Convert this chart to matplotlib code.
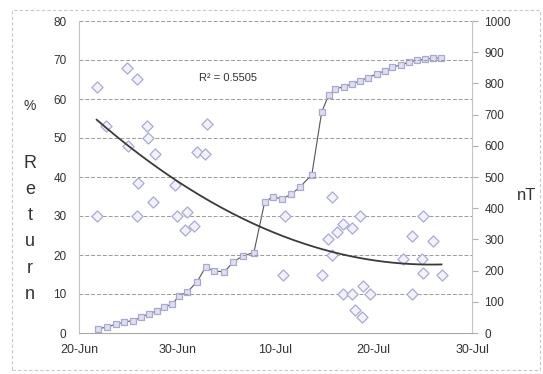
import numpy as np
import matplotlib
matplotlib.use("Agg")
import matplotlib.pyplot as plt
from matplotlib.patches import Rectangle

plt.rcParams['font.family'] = ['Liberation Sans', 'DejaVu Sans']

# Return (%) observations: day offset from 20-Jun, value
ret_day = [1.8, 2.7, 4.9, 5.9, 5.0, 6.0, 6.9, 7.0, 7.7, 9.8, 12.0, 12.8, 13.0,
           1.8, 5.9, 7.5, 10.0, 11.0, 10.8, 11.7,
           20.8, 21.0, 24.7, 25.8, 25.3, 25.8, 26.3, 26.9, 27.8, 28.6,
           26.9, 27.8, 28.9, 29.6, 28.1, 28.8,
           33.0, 33.9, 35.0, 34.9, 35.0, 36.0, 36.9, 33.9]
ret_val = [63, 53, 68, 65, 48, 38.5, 53, 50, 46, 38, 46.5, 46, 53.5,
           30, 30, 33.5, 30, 31, 26.5, 27.5,
           15, 30, 15, 35, 24, 20, 26, 28, 27, 30,
           10, 10, 12, 10, 6, 4,
           19, 25, 30, 19, 15.4, 23.6, 15, 10]

# Cumulative nT: day offset from 20-Jun, value
nt_day = [1.9, 2.8, 3.8, 4.6, 5.5, 6.3, 7.1, 7.9, 8.7, 9.5, 10.2, 11.0, 12.0,
          12.9, 13.7, 14.8, 15.7, 16.7, 17.8, 18.9, 19.7, 20.7, 21.6, 22.5,
          23.7, 24.7, 25.4, 26.1, 27.0, 27.8, 28.6, 29.4, 30.3, 31.1, 31.9,
          32.8, 33.6, 34.4, 35.2, 36.0, 36.8]
nt_val = [13, 19, 28, 35, 40, 50, 61, 71, 83, 93, 119, 131, 163,
          212, 199, 196, 228, 247, 258, 420, 436, 430, 445, 468,
          508, 708, 762, 782, 790, 798, 808, 818, 830, 840, 852,
          860, 868, 874, 878, 880, 882]

x_ticks = [0, 10, 20, 30, 40]
x_labels = ['20-Jun', '30-Jun', '10-Jul', '20-Jul', '30-Jul']
left_ticks = [0, 10, 20, 30, 40, 50, 60, 70, 80]
right_ticks = [0, 100, 200, 300, 400, 500, 600, 700, 800, 900, 1000]
r2_text = 'R² = 0.5505'

W, H = 543, 374
fig = plt.figure(figsize=(W / 100, H / 100), dpi=100)
fig.patch.set_facecolor('white')


def fx(px):
    return px / W


def fy(py):
    return 1 - py / H


# dashed frame around the whole chart
fig.patches.append(Rectangle((fx(12), fy(370)), fx(528), 1 - 14 / H,
                             transform=fig.transFigure, fill=False,
                             edgecolor='#c8c8c8', lw=0.8, ls=(0, (3, 2))))

ax = fig.add_axes([fx(79), fy(333), fx(472 - 79), (333 - 21) / H])
ax2 = ax.twinx()

tick_color = '#333333'
ax.set_xlim(0, 40)
ax.set_ylim(0, 80)
ax2.set_ylim(0, 1000)
ax.set_xticks(x_ticks)
ax.set_xticklabels(x_labels)
ax.set_yticks(left_ticks)
ax2.set_yticks(right_ticks)

ax.grid(axis='y', color='#9a9a9a', lw=0.7, ls=(0, (4, 2)))
ax.set_axisbelow(True)

for a in (ax, ax2):
    for s in a.spines.values():
        s.set_visible(False)
ax.spines['left'].set_visible(True)
ax.spines['left'].set_color('#c4c4c4')
ax2.spines['right'].set_visible(True)
ax2.spines['right'].set_color('#c4c4c4')
ax.spines['bottom'].set_visible(True)
ax.spines['bottom'].set_color('#a8a8a8')

ax.tick_params(axis='y', length=0, pad=9, labelsize=8.5, labelcolor=tick_color)
ax.tick_params(axis='x', length=0, pad=8, labelsize=9, labelcolor=tick_color)
ax2.tick_params(axis='y', length=4, color='#b0b0b0', pad=5, labelsize=8.5,
                labelcolor=tick_color)

# cumulative nT on the right axis
ax2.plot(nt_day, nt_val, color='#555555', lw=0.8, marker='s', ms=5,
         mfc='#dedef2', mec='#a8a8d0', mew=0.9, zorder=3)

# return observations with a 2nd order polynomial trend
ax.scatter(ret_day, ret_val, marker='D', s=32, facecolor='#f2f2fb',
           edgecolor='#aaaad6', linewidth=0.9, zorder=4)
coef = np.polyfit(ret_day, ret_val, 2)
tx = np.linspace(min(ret_day), max(ret_day), 200)
ax.plot(tx, np.polyval(coef, tx), color='#3a3a3a', lw=1.3, zorder=5)
ax.set_zorder(ax2.get_zorder() + 1)
ax.patch.set_visible(False)

fig.text(fx(228), fy(78), r2_text, fontsize=8, color=tick_color,
         ha='center', va='center')
fig.text(fx(30), fy(106), '%', fontsize=10, color=tick_color,
         ha='center', va='center')
for i, ch in enumerate('Return'):
    fig.text(fx(30), fy(163 + 26.3 * i), ch, fontsize=13,
             color=tick_color, ha='center', va='center')
fig.text(fx(527), fy(196), 'nT', fontsize=12, color=tick_color,
         ha='center', va='center')

fig.savefig('out.png', dpi=100)
